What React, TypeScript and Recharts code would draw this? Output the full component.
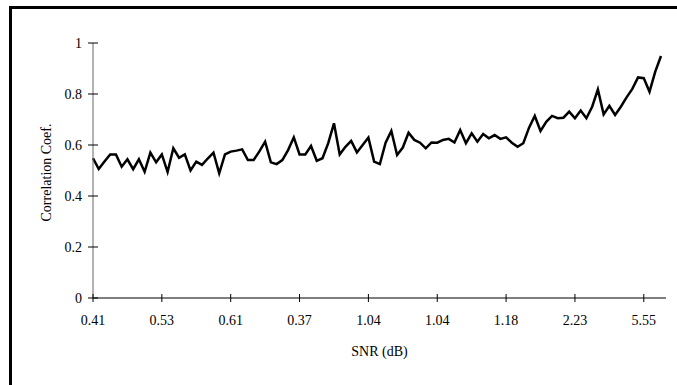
import { LineChart, Line, XAxis, YAxis } from 'recharts'

// SNR tick labels, one every 12 samples
const snrTicks = ['0.41', '0.53', '0.61', '0.37', '1.04', '1.04', '1.18', '2.23', '5.55']
const tickStep = 12

// correlation coefficient per sample
const corr = [
  0.548, 0.506, 0.535, 0.563, 0.563, 0.515, 0.544, 0.505, 0.544, 0.495,
  0.57, 0.532, 0.563, 0.494, 0.587, 0.55, 0.563, 0.5, 0.535, 0.522,
  0.547, 0.57, 0.489, 0.563, 0.574, 0.578, 0.583, 0.541, 0.541, 0.575,
  0.613, 0.532, 0.525, 0.541, 0.58, 0.63, 0.563, 0.563, 0.596, 0.538,
  0.548, 0.607, 0.685, 0.563, 0.593, 0.616, 0.571, 0.6, 0.629, 0.535,
  0.525, 0.609, 0.655, 0.561, 0.59, 0.648, 0.62, 0.609, 0.587, 0.61,
  0.609, 0.62, 0.624, 0.61, 0.659, 0.607, 0.646, 0.613, 0.643, 0.626,
  0.639, 0.624, 0.63, 0.609, 0.593, 0.607, 0.668, 0.714, 0.655, 0.691,
  0.714, 0.705, 0.707, 0.731, 0.705, 0.735, 0.705, 0.75, 0.818, 0.72,
  0.754, 0.718, 0.75, 0.787, 0.82, 0.865, 0.862, 0.809, 0.888, 0.949,
]

const yTicks = [0, 0.2, 0.4, 0.6, 0.8, 1]

const data = corr.map((v, i) => ({ i, corr: v }))
const xTickIdx = snrTicks.map((_, k) => k * tickStep)

const FONT = 'Liberation Serif, serif'
const FS = 14
const X_MARGIN = 19
const Y_MARGIN = 11

const XTick = (props: any) => {
  const { x, y, payload } = props
  const axisY = y - X_MARGIN
  const label = snrTicks[Math.round(payload.value / tickStep)]
  return (
    <g>
      <line x1={x} x2={x} y1={axisY - 4} y2={axisY + 4} stroke="#000" strokeWidth={1} />
      <text x={x} y={y} dy={8} textAnchor="middle" fontSize={FS} fontFamily={FONT} fill="#000">
        {label}
      </text>
    </g>
  )
}

const YTick = (props: any) => {
  const { x, y, payload } = props
  const axisX = x + Y_MARGIN
  return (
    <g>
      <line x1={axisX - 5} x2={axisX + 5} y1={y} y2={y} stroke="#000" strokeWidth={1} />
      <text x={x} y={y} dy={4.5} textAnchor="end" fontSize={FS} fontFamily={FONT} fill="#000">
        {String(payload.value)}
      </text>
    </g>
  )
}

export default function App() {
  return (
    <div
      style={{
        position: 'absolute',
        left: 9,
        top: 6,
        borderLeft: '3px solid #000',
        borderTop: '3px solid #000',
        background: '#fff',
      }}
    >
      <LineChart
        width={665}
        height={376}
        data={data}
        margin={{ top: 34, right: 11, bottom: 27, left: 0 }}
      >
        <XAxis
          dataKey="i"
          type="category"
          ticks={xTickIdx}
          interval={0}
          height={60}
          padding={{ left: 0, right: 5 }}
          axisLine={{ stroke: '#000', strokeWidth: 1.2 }}
          tickLine={false}
          tickSize={0}
          tickMargin={X_MARGIN}
          tick={<XTick />}
          label={{
            content: ({ viewBox }: any) => (
              <text
                x={viewBox.x + viewBox.width / 2}
                y={viewBox.y + 58}
                textAnchor="middle"
                fontSize={FS}
                fontFamily={FONT}
                fill="#000"
              >
                SNR (dB)
              </text>
            ),
          }}
        />
        <YAxis
          type="number"
          domain={[0, 1]}
          ticks={yTicks}
          width={81}
          axisLine={{ stroke: '#666', strokeWidth: 1 }}
          tickLine={false}
          tickSize={0}
          tickMargin={Y_MARGIN}
          tick={<YTick />}
          label={{
            content: ({ viewBox }: any) => {
              const cx = 34
              const cy = viewBox.y + viewBox.height / 2 + 2
              return (
                <text
                  x={cx}
                  y={cy}
                  transform={`rotate(-90, ${cx}, ${cy})`}
                  textAnchor="middle"
                  dominantBaseline="central"
                  fontSize={FS}
                  fontFamily={FONT}
                  fill="#000"
                >
                  Correlation Coef.
                </text>
              )
            },
          }}
        />
        <Line
          dataKey="corr"
          stroke="#000"
          strokeWidth={2.5}
          dot={false}
          isAnimationActive={false}
          strokeLinejoin="miter"
        />
      </LineChart>
    </div>
  )
}
